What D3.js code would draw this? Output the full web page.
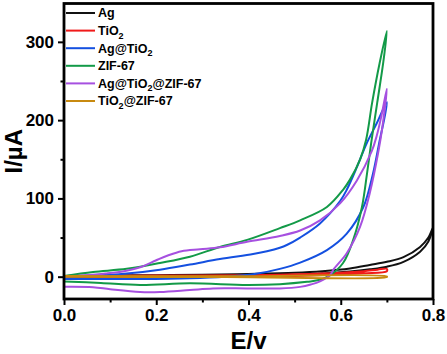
<!DOCTYPE html>
<html><head><meta charset="utf-8">
<script src="https://cdn.jsdelivr.net/npm/d3@7"></script>
<style>
body{margin:0;background:#fff}
text{font-family:Arial,"Liberation Sans",sans-serif;font-weight:bold;fill:#000}
</style>
</head><body>
<svg id="c" width="447" height="354"></svg>
<script>
// ---- data (potential E in V, current I in µA) ----
const seriesNames = ["Ag", "TiO2", "Ag@TiO2", "ZIF-67", "Ag@TiO2@ZIF-67", "TiO2@ZIF-67"];
const seriesColors = ["#111111", "#f01a1a", "#1450e0", "#139a48", "#a650e0", "#c88a10"];

const agCurve = [[0,-1],[0.1,-0.5],[0.2,0],[0.3,0.5],[0.4,1],[0.5,2],[0.56,4],[0.62,6.5],[0.663,9.4],[0.70,12.8],[0.736,19],[0.772,32],[0.79,45],[0.8,63],
  [0.79,50],[0.772,38],[0.736,25],[0.70,19],[0.663,15],[0.62,10.5],[0.56,7],[0.5,5],[0.4,3.5],[0.3,2.5],[0.2,2],[0.1,1.5],[0,1]];
const tio2Curve = [[0,-1],[0.2,-0.5],[0.4,0],[0.5,1],[0.6,3],[0.65,4.5],[0.7,7],
  [0.7,10],[0.68,9],[0.65,7],[0.6,5],[0.5,3],[0.4,2],[0.2,1.5],[0,1]];
const agTio2Curve = [[0,-3],[0.1,-3],[0.165,-3],[0.273,-2],[0.35,0],[0.41,3],[0.468,10],[0.512,18],[0.57,34],[0.613,55],[0.649,89],[0.670,132],[0.683,170],[0.700,223],
  [0.678,196],[0.656,170],[0.635,140],[0.613,111],[0.599,97],[0.555,68],[0.512,50],[0.483,40.5],[0.468,37],[0.44,32.5],[0.41,29],[0.338,22.5],[0.273,15.5],[0.208,9],[0.136,4],[0.06,1],[0,0]];
const zifCurve = [[0,-6],[0.08,-8],[0.165,-10.5],[0.273,-8.5],[0.397,-10.5],[0.468,-9.5],[0.527,-6.5],[0.555,-4],[0.577,2],[0.605,17.5],[0.627,47],[0.646,89],[0.657,132],[0.666,171],[0.679,222],[0.692,273],[0.700,314],
  [0.684,272],[0.668,222],[0.655,175],[0.642,150],[0.620,124],[0.605,111],[0.570,89],[0.512,72],[0.468,62],[0.397,47],[0.338,38],[0.273,25.5],[0.208,17.5],[0.136,10],[0.063,6],[0,1]];
const agTio2ZifCurve = [[0,-13],[0.063,-13.5],[0.10,-16],[0.165,-19.5],[0.208,-19.5],[0.273,-17],[0.323,-15],[0.397,-15],[0.468,-15],[0.512,-13],[0.535,-10],[0.555,-6],[0.577,2],[0.584,9],[0.613,30],[0.642,64],[0.663,107],[0.681,158],[0.690,190],[0.700,240],
  [0.688,205],[0.678,180],[0.667,160],[0.635,123],[0.599,94],[0.555,72],[0.512,59],[0.468,52],[0.397,44.5],[0.338,37.5],[0.295,35],[0.255,32.5],[0.225,27],[0.200,21],[0.165,12],[0.130,7],[0.090,4],[0.04,1.5],[0,0]];
const tio2ZifCurve = [[0,-0.5],[0.35,-0.5],[0.7,-0.5],[0.7,0.3],[0.35,0.5],[0,0.8]];

const seriesData = [agCurve, tio2Curve, agTio2Curve, zifCurve, agTio2ZifCurve, tio2ZifCurve];

const xTicks = [0, 0.2, 0.4, 0.6, 0.8];
const xMinorTicks = [0.1, 0.3, 0.5, 0.7];
const yTicks = [0, 100, 200, 300];
const yMinorTicks = [50, 150, 250];
const xTitle = "E/v";
const yTitle = "I/µA";

// ---- layout ----
const svg = d3.select("#c");
const L = 64, R = 433, T = 3.5, B = 299;
const x = d3.scaleLinear().domain([0, 0.8]).range([L, R]);
const y = d3.scaleLinear().domain([-28.5, 349]).range([B, T]);

const line = d3.line().x(d => x(d[0])).y(d => y(d[1])).curve(d3.curveCatmullRom.alpha(0.5));

seriesData.forEach((s, i) => {
  svg.append("path").datum(s).attr("d", line)
    .attr("fill", "none").attr("stroke", seriesColors[i])
    .attr("stroke-width", 2).attr("stroke-linejoin", "round");
});

// axes
const fmtX = d3.format(".1f");
const xAxis = svg.append("g").attr("transform", `translate(0,${B})`)
  .call(d3.axisBottom(x).tickValues(xTicks).tickFormat(fmtX).tickSize(6).tickSizeOuter(0).tickPadding(4));
const xMinor = svg.append("g").attr("transform", `translate(0,${B})`)
  .call(d3.axisBottom(x).tickValues(xMinorTicks).tickFormat("").tickSize(3.5).tickSizeOuter(0));
const yAxis = svg.append("g").attr("transform", `translate(${L},0)`)
  .call(d3.axisLeft(y).tickValues(yTicks).tickSize(6).tickSizeOuter(0).tickPadding(4));
const yMinor = svg.append("g").attr("transform", `translate(${L},0)`)
  .call(d3.axisLeft(y).tickValues(yMinorTicks).tickFormat("").tickSize(3.5).tickSizeOuter(0));
[xAxis, xMinor, yAxis, yMinor].forEach(g => {
  g.select(".domain").remove();
  g.selectAll(".tick line").attr("stroke", "#000").attr("stroke-width", 2);
  g.selectAll(".tick text").attr("font-size", 17).attr("font-family", "Arial, 'Liberation Sans', sans-serif").attr("font-weight", "bold").attr("fill", "#000");
});

// frame
svg.append("rect").attr("x", L).attr("y", T).attr("width", R - L).attr("height", B - T)
  .attr("fill", "none").attr("stroke", "#000").attr("stroke-width", 2.8);

// titles
svg.append("text").attr("x", (L + R) / 2).attr("y", 349).attr("text-anchor", "middle")
  .attr("font-size", 24).text(xTitle);
svg.append("text").attr("transform", `translate(22,${(T + B) / 2}) rotate(-90)`)
  .attr("text-anchor", "middle").attr("font-size", 24).text(yTitle);

// legend
const legY0 = 13, legStep = 17.6;
seriesNames.forEach((name, i) => {
  const yy = legY0 + i * legStep;
  svg.append("line").attr("x1", 66).attr("x2", 95).attr("y1", yy).attr("y2", yy)
    .attr("stroke", seriesColors[i]).attr("stroke-width", 2);
  const t = svg.append("text").attr("x", 98).attr("y", yy + 4.4).attr("font-size", 12.5);
  const parts = name.split("O2");
  parts.forEach((p, j) => {
    const last = j === parts.length - 1;
    const main = t.append("tspan").text(last ? p : p + "O");
    if (j > 0) main.attr("dy", -3.5);
    if (!last) t.append("tspan").attr("font-size", 9).attr("dy", 3.5).text("2");
  });
});
</script>
</body></html>
